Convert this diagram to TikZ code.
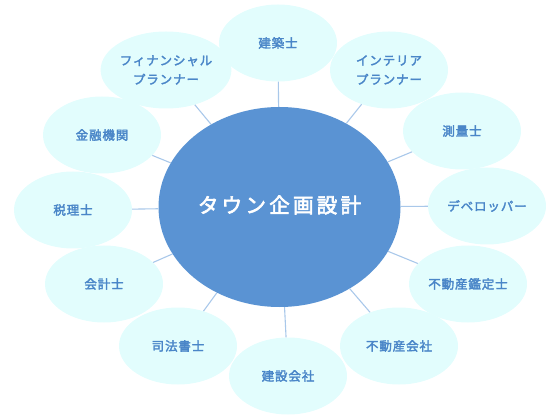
\documentclass[tikz,border=0pt]{standalone}
\usepackage{fontspec}
\usetikzlibrary{shapes.geometric}
\newfontfamily\jpsmall[LetterSpace=7,FakeBold=2.5]{Noto Sans CJK JP}
\newfontfamily\jpbig[LetterSpace=16,FakeBold=3]{Noto Sans CJK JP}
\definecolor{hubblue}{HTML}{5A93D3}
\definecolor{leaffill}{HTML}{E2FDFD}
\definecolor{leaftext}{HTML}{4A86C8}
\definecolor{linkcol}{HTML}{A9C8EA}
\tikzset{
  hub/.style={ellipse, fill=hubblue, minimum width=242pt, minimum height=200pt, inner sep=0pt,
    text=white, font=\jpbig\fontsize{20.5}{24}\selectfont},
  leaf/.style={ellipse, fill=leaffill, minimum width=118pt, minimum height=77pt, inner sep=0pt,
    text=leaftext, align=center, font=\jpsmall\fontsize{12.5}{19}\selectfont},
  link/.style={draw=linkcol, line width=1.1pt}
}
\begin{document}
\begin{tikzpicture}[x=1pt,y=-1pt]
\useasboundingbox (0,0) rectangle (553,419);
\node[hub] (c) at (279.5,207) {};
\node[leaf] (n1) at (278,43) {建築士};
\node[leaf] (n2) at (389,70) {インテリア\\プランナー};
\node[leaf] (n3) at (462,131) {測量士};
\node[leaf] (n4) at (487,206) {デベロッパー};
\node[leaf] (n5) at (468,284) {不動産鑑定士};
\node[leaf] (n6) at (399,346) {不動産会社};
\node[leaf] (n7) at (288,376) {建設会社};
\node[leaf] (n8) at (178,346) {司法書士};
\node[leaf] (n9) at (104,284) {会計士};
\node[leaf] (n10) at (73,210) {税理士};
\node[leaf] (n11) at (102,135) {金融機関};
\node[leaf] (n12) at (166,70) {フィナンシャル\\プランナー};
\foreach \i in {1,...,12} { \draw[link] (c) -- (n\i); }
\node[text=white, font=\jpbig\fontsize{20.5}{24}\selectfont] (ct) at (279.5,205) {タウン企画設計};
\end{tikzpicture}
\end{document}
